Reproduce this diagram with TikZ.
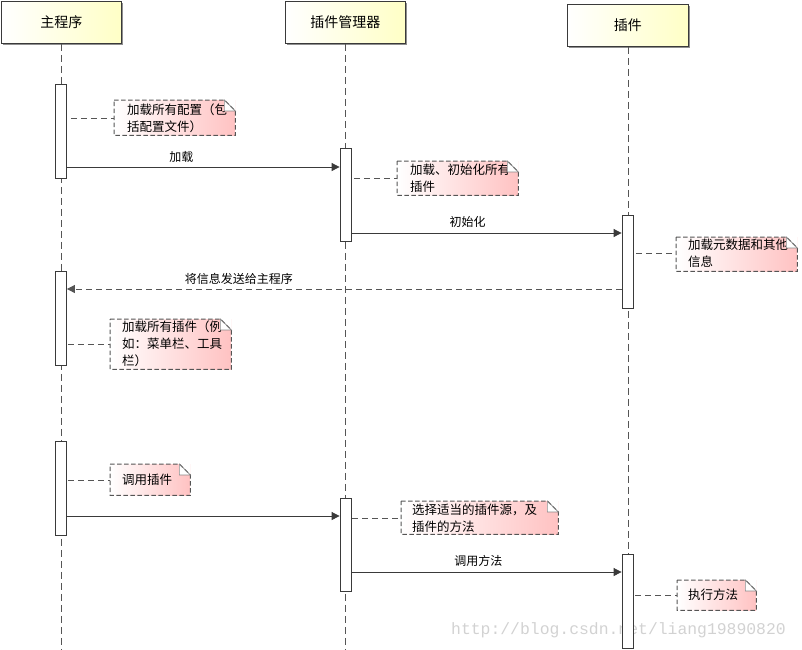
\documentclass[tikz,border=0pt]{standalone}
\usepackage{fontspec}
\setmainfont{Noto Sans CJK SC}
\newfontfamily\wmfont{Liberation Mono}
\usetikzlibrary{arrows.meta,calc,shadows}

\definecolor{hdrY}{HTML}{FFFFC6}
\definecolor{noteP}{HTML}{FFC2C2}
\definecolor{lineG}{HTML}{3A3A3A}
\definecolor{dashG}{HTML}{555555}
\definecolor{foldG}{HTML}{8A8A8A}
\definecolor{wmG}{HTML}{D2D2D2}

\newcommand\dogear[2][11pt]{%
  \fill[white] ($(#2.north east)+(-#1,0pt)$) rectangle ($(#2.north east)+(0pt,-#1)$);
  \draw[notedash] (#2.north west) -- ($(#2.north east)+(-#1,0pt)$) -- ($(#2.north east)+(0pt,-#1)$) -- (#2.south east) -- (#2.south west) -- cycle;
  \draw[foldline] ($(#2.north east)+(-#1,0pt)$) -- ($(#2.north east)+(-#1,-#1)$) -- ($(#2.north east)+(0pt,-#1)$) -- cycle;
}

\begin{document}
\begin{tikzpicture}[x=1pt,y=-1pt,
  hdr/.style={draw=lineG, line width=0.9pt, left color=white, right color=hdrY,
    minimum width=120pt, minimum height=42pt, inner sep=0pt, anchor=north west,
    font=\fontsize{14}{16}\selectfont,
    drop shadow={shadow xshift=1.3pt, shadow yshift=-1.3pt, fill=black!55, opacity=0.8}},
  life/.style={draw=dashG, line width=0.8pt, dash pattern=on 7pt off 4pt},
  bar/.style={draw=lineG, line width=0.8pt, fill=white, minimum width=11pt, inner sep=0pt, anchor=north},
  msg/.style={draw=lineG, line width=0.8pt, -{Triangle[length=8pt,width=8pt]}},
  ret/.style={msg, draw=dashG, dash pattern=on 6pt off 4pt},
  lbl/.style={font=\fontsize{12}{14}\selectfont, inner sep=0pt, anchor=south},
  notebox/.style={left color=white, right color=noteP, inner sep=0pt, anchor=north west},
  notedash/.style={draw=dashG, line width=1pt, dash pattern=on 4.5pt off 2.5pt},
  foldline/.style={draw=foldG, line width=0.6pt},
  notetxt/.style={font=\fontsize{12.5}{17}\selectfont, align=left, inner sep=0pt, anchor=west},
  conn/.style={draw=dashG, line width=0.9pt, dash pattern=on 6pt off 4pt},
  wm/.style={font=\wmfont\fontsize{16.4}{18}\selectfont, text=wmG, inner sep=0pt}
]
\useasboundingbox (0,0) rectangle (802,649);
\coordinate (bot) at (0,649);

% headers
\node[hdr] (hMain) at (1,1) {主程序};
\node[hdr] (hMgr) at (285,1) {插件管理器};
\node[hdr, minimum width=121pt] (hPlg) at (567,4) {插件};

% lifelines
\draw[life] (hMain.south) -- (hMain.south |- bot);
\draw[life] (hMgr.south) -- (hMgr.south |- bot);
\draw[life] (hPlg.south) -- (hPlg.south |- bot);

% watermark
\node[wm, anchor=base west] (wmk) at (451,634) {http://blog.csdn.net/liang19890820};

% activation bars
\node[bar, minimum height=94pt] (mainA) at (61,84) {};
\node[bar, minimum height=94pt] (mainB) at (61,271) {};
\node[bar, minimum height=94pt] (mainC) at (61,441) {};
\node[bar, minimum height=93pt] (mgrA) at (345.5,148) {};
\node[bar, minimum height=93pt] (mgrB) at (345.5,498) {};
\node[bar, minimum height=93pt] (plgA) at (627.5,215) {};
\node[bar, minimum height=94pt] (plgB) at (627.5,554) {};

% message heights
\coordinate (y1) at (0,167);
\coordinate (y2) at (0,233);
\coordinate (y3) at (0,289);
\coordinate (y4) at (0,516);
\coordinate (y5) at (0,572);

\draw[msg] (mainA.east |- y1) -- node[lbl, pos=0.42, above=4pt] {加载} (mgrA.west |- y1);
\draw[msg] (mgrA.east |- y2) -- node[lbl, pos=0.43, above=5pt] {初始化} (plgA.west |- y2);
\draw[ret] (plgA.west |- y3) -- node[lbl, pos=0.69, above=4pt] {将信息发送给主程序} (mainB.east |- y3);
\draw[msg] (mainC.east |- y4) -- (mgrB.west |- y4);
\draw[msg] (mgrB.east |- y5) -- node[lbl, pos=0.47, above=5pt] {调用方法} (plgB.west |- y5);

% notes
\node[notebox, minimum width=121pt, minimum height=35pt] (n1) at (114,100) {};
\node[notetxt] (t1) at (127,118) {加载所有配置（包\\括配置文件）};
\dogear{n1}
\draw[conn] ([xshift=4pt]mainA.east |- t1) -- (n1.west |- t1);

\node[notebox, minimum width=121pt, minimum height=34pt] (n2) at (397,161) {};
\node[notetxt] (t2) at (410,178) {加载、初始化所有\\插件};
\dogear{n2}
\draw[conn] ([xshift=3pt]mgrA.east |- t2) -- (n2.west |- t2);

\node[notebox, minimum width=121pt, minimum height=34pt] (n3) at (676,237) {};
\node[notetxt] (t3) at (688,253) {加载元数据和其他\\信息};
\dogear{n3}
\draw[conn] ([xshift=3pt]plgA.east |- t3) -- (n3.west |- t3);

\node[notebox, minimum width=121pt, minimum height=50pt] (n4) at (110,319) {};
\node[notetxt] (t4) at (122,344) {加载所有插件（例\\如：菜单栏、工具\\栏）};
\dogear{n4}
\draw[conn] ([xshift=1pt]mainB.east |- t4) -- (n4.west |- t4);

\node[notebox, minimum width=80pt, minimum height=31pt] (n5) at (110,464) {};
\node[notetxt] (t5) at (122,480) {调用插件};
\dogear{n5}
\draw[conn] ([xshift=1pt]mainC.east |- t5) -- (n5.west |- t5);

\node[notebox, minimum width=157pt, minimum height=33pt] (n6) at (401,501) {};
\node[notetxt] (t6) at (412,518) {选择适当的插件源，及\\插件的方法};
\dogear{n6}
\draw[conn] ([xshift=1pt]mgrB.east |- t6) -- (n6.west |- t6);

\node[notebox, minimum width=79pt, minimum height=30pt] (n7) at (677,580) {};
\node[notetxt] (t7) at (688,595) {执行方法};
\dogear{n7}
\draw[conn] ([xshift=2pt]plgB.east |- t7) -- (n7.west |- t7);
\end{tikzpicture}
\end{document}
